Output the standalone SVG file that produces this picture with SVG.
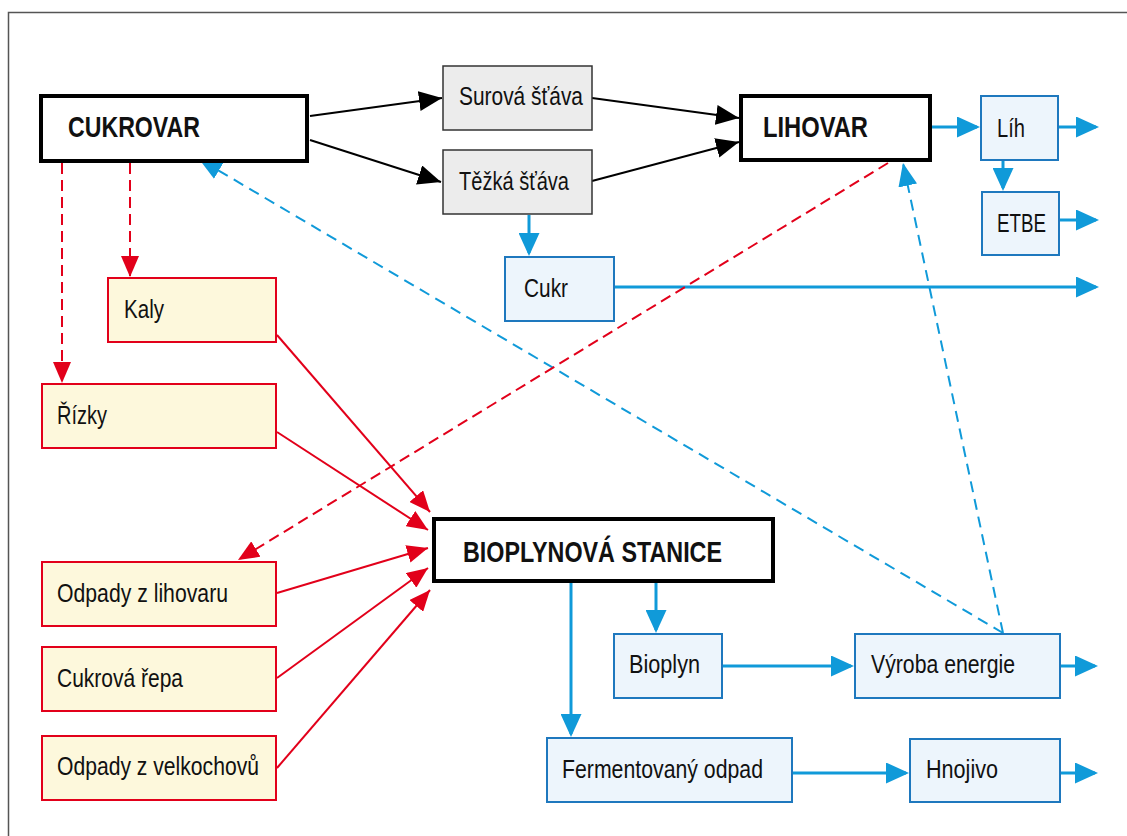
<svg xmlns="http://www.w3.org/2000/svg" width="1127" height="836" viewBox="0 0 1127 836">
<style>
text{font-family:"Liberation Sans","Noto Sans",Arial,sans-serif;fill:#111}
.t{font-size:25px}
.b{font-size:30px;font-weight:bold}
.main{fill:#fff;stroke:#000;stroke-width:4}
.gray{fill:#ececec;stroke:#333;stroke-width:1.5}
.blue{fill:#edf5fc;stroke:#1e78be;stroke-width:2}
.red{fill:#fdf8dc;stroke:#e2001a;stroke-width:2}
.ck{fill:none;stroke:#000;stroke-width:2}
.cb{fill:none;stroke:#109ad9;stroke-width:3}
.cbd{fill:none;stroke:#109ad9;stroke-width:2;stroke-dasharray:11 7}
.cr{fill:none;stroke:#e2001a;stroke-width:2}
.crd{fill:none;stroke:#e2001a;stroke-width:2;stroke-dasharray:11 6}
</style>
<defs>
<marker id="ab" viewBox="0 0 23 21" refX="20" refY="10.5" markerWidth="23" markerHeight="21" markerUnits="userSpaceOnUse" orient="auto"><path d="M0,0 L23,10.5 L0,21 z" fill="#109ad9"/></marker>
<marker id="abd" viewBox="0 0 23 19" refX="23" refY="9.5" markerWidth="23" markerHeight="19" markerUnits="userSpaceOnUse" orient="auto"><path d="M0,0 L23,9.5 L0,19 z" fill="#109ad9"/></marker>
<marker id="ak" viewBox="0 0 23 20" refX="23" refY="10" markerWidth="23" markerHeight="20" markerUnits="userSpaceOnUse" orient="auto"><path d="M0,0 L23,10 L0,20 z" fill="#000"/></marker>
<marker id="ar" viewBox="0 0 21 18" refX="21" refY="9" markerWidth="21" markerHeight="18" markerUnits="userSpaceOnUse" orient="auto"><path d="M0,0 L21,9 L0,18 z" fill="#e2001a"/></marker>
</defs>
<rect width="1127" height="836" fill="#fff"/>
<path d="M8.5,836 V12.5 H1127" fill="none" stroke="#555" stroke-width="1.5"/>
<g id="connectors">
<path class="ck" d="M310,116 L442,98" marker-end="url(#ak)"/>
<path class="ck" d="M310,140 L441,182" marker-end="url(#ak)"/>
<path class="ck" d="M592,98 L739,118" marker-end="url(#ak)"/>
<path class="ck" d="M592,181 L739,142" marker-end="url(#ak)"/>
<path class="cb" d="M932,127 H977" marker-end="url(#ab)"/>
<path class="cb" d="M1059,127 H1096" marker-end="url(#ab)"/>
<path class="cb" d="M1003,161 V188" marker-end="url(#ab)"/>
<path class="cb" d="M1060,220 H1096" marker-end="url(#ab)"/>
<path class="cb" d="M529,215 V253" marker-end="url(#ab)"/>
<path class="cb" d="M615,287 H1096" marker-end="url(#ab)"/>
<path class="cb" d="M656,583 V630" marker-end="url(#ab)"/>
<path class="cb" d="M571,583 V734" marker-end="url(#ab)"/>
<path class="cb" d="M723,666 H851" marker-end="url(#ab)"/>
<path class="cb" d="M1061,666 H1095" marker-end="url(#ab)"/>
<path class="cb" d="M793,773 H906" marker-end="url(#ab)"/>
<path class="cb" d="M1061,773 H1095" marker-end="url(#ab)"/>
<path class="cbd" d="M1003,633 L199,159" marker-end="url(#abd)"/>
<path class="cbd" d="M1003,633 L903,163" marker-end="url(#abd)"/>
<path class="crd" d="M62,163 V383" marker-end="url(#ar)"/>
<path class="crd" d="M130,163 V277" marker-end="url(#ar)"/>
<path class="crd" d="M888,163 L238,560" marker-end="url(#ar)"/>
<path class="cr" d="M277,335 L430,512" marker-end="url(#ar)"/>
<path class="cr" d="M277,432 L428,530" marker-end="url(#ar)"/>
<path class="cr" d="M277,593 L428,548" marker-end="url(#ar)"/>
<path class="cr" d="M277,678 L428,568" marker-end="url(#ar)"/>
<path class="cr" d="M277,768 L430,590" marker-end="url(#ar)"/>
</g>
<g id="cukrovar"><rect class="main" x="41" y="96" width="266" height="65"/><text class="b" x="68" y="137" textLength="132" lengthAdjust="spacingAndGlyphs">CUKROVAR</text></g>
<g id="surova"><rect class="gray" x="443" y="66" width="149" height="64"/><text class="t" x="459" y="105" textLength="124" lengthAdjust="spacingAndGlyphs">Surová šťáva</text></g>
<g id="tezka"><rect class="gray" x="443" y="150" width="149" height="64"/><text class="t" x="459" y="190" textLength="110" lengthAdjust="spacingAndGlyphs">Těžká šťáva</text></g>
<g id="lihovar"><rect class="main" x="741" y="96" width="189" height="64"/><text class="b" x="763" y="137" textLength="105" lengthAdjust="spacingAndGlyphs">LIHOVAR</text></g>
<g id="lih"><rect class="blue" x="981" y="96" width="77" height="64"/><text class="t" x="997" y="137" textLength="28" lengthAdjust="spacingAndGlyphs">Líh</text></g>
<g id="etbe"><rect class="blue" x="982" y="192" width="77" height="63"/><text class="t" x="997" y="232" textLength="49" lengthAdjust="spacingAndGlyphs">ETBE</text></g>
<g id="cukr"><rect class="blue" x="505" y="257" width="109" height="64"/><text class="t" x="524" y="297" textLength="44" lengthAdjust="spacingAndGlyphs">Cukr</text></g>
<g id="kaly"><rect class="red" x="108" y="278" width="168" height="64"/><text class="t" x="124" y="318" textLength="40" lengthAdjust="spacingAndGlyphs">Kaly</text></g>
<g id="rizky"><rect class="red" x="42" y="384" width="234" height="64"/><text class="t" x="57" y="424" textLength="50" lengthAdjust="spacingAndGlyphs">Řízky</text></g>
<g id="odpady-lihovar"><rect class="red" x="42" y="562" width="234" height="64"/><text class="t" x="57" y="602" textLength="171" lengthAdjust="spacingAndGlyphs">Odpady z lihovaru</text></g>
<g id="cukrova-repa"><rect class="red" x="42" y="647" width="234" height="64"/><text class="t" x="57" y="687" textLength="126" lengthAdjust="spacingAndGlyphs">Cukrová řepa</text></g>
<g id="odpady-velkochovy"><rect class="red" x="42" y="736" width="234" height="64"/><text class="t" x="57" y="775" textLength="202" lengthAdjust="spacingAndGlyphs">Odpady z velkochovů</text></g>
<g id="bioplynova-stanice"><rect class="main" x="434" y="519" width="339" height="62"/><text class="b" x="463" y="562" textLength="259" lengthAdjust="spacingAndGlyphs">BIOPLYNOVÁ STANICE</text></g>
<g id="bioplyn"><rect class="blue" x="614" y="634" width="108" height="64"/><text class="t" x="629" y="673" textLength="71" lengthAdjust="spacingAndGlyphs">Bioplyn</text></g>
<g id="vyroba-energie"><rect class="blue" x="855" y="634" width="205" height="64"/><text class="t" x="871" y="673" textLength="144" lengthAdjust="spacingAndGlyphs">Výroba energie</text></g>
<g id="fermentovany-odpad"><rect class="blue" x="547" y="738" width="245" height="64"/><text class="t" x="562" y="778" textLength="201" lengthAdjust="spacingAndGlyphs">Fermentovaný odpad</text></g>
<g id="hnojivo"><rect class="blue" x="910" y="739" width="150" height="63"/><text class="t" x="926" y="778" textLength="72" lengthAdjust="spacingAndGlyphs">Hnojivo</text></g>
</svg>
